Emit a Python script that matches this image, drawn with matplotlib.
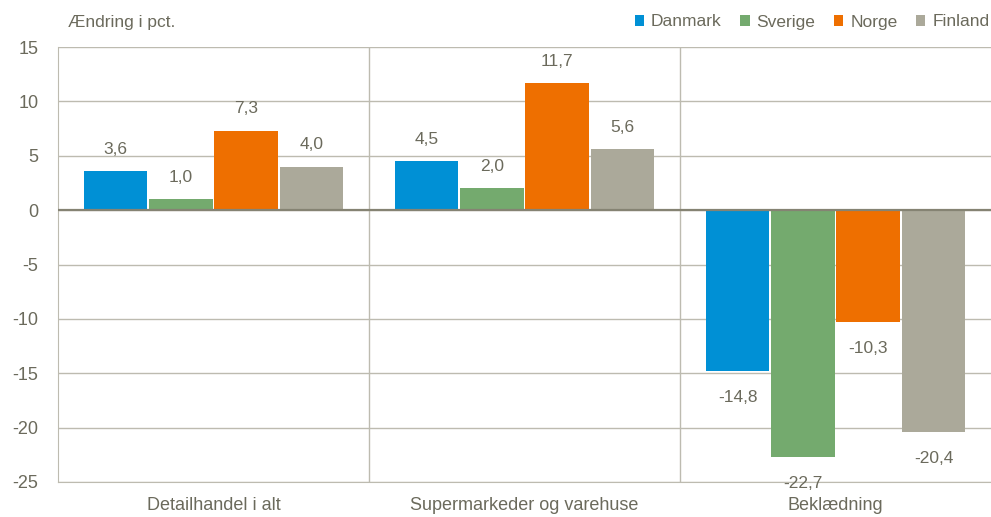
import matplotlib.pyplot as plt
import numpy as np

plt.rcParams['font.family'] = ['Liberation Sans', 'DejaVu Sans']

categories = ['Detailhandel i alt', 'Supermarkeder og varehuse', 'Beklædning']
countries = ['Danmark', 'Sverige', 'Norge', 'Finland']
danmark = [3.6, 4.5, -14.8]
sverige = [1.0, 2.0, -22.7]
norge = [7.3, 11.7, -10.3]
finland = [4.0, 5.6, -20.4]
series = [danmark, sverige, norge, finland]
colors = ['#0090d5', '#74aa6e', '#ee6f00', '#aba99a']

txt = '#6b6a5c'
grid = '#bdbbb0'

fig = plt.figure(figsize=(9.91, 5.17), dpi=100)
ax = fig.add_axes([58/991, 35/517, 933/991, 435/517])

x = np.arange(len(categories))
w = 0.205
step = 0.21
for i, (vals, c) in enumerate(zip(series, colors)):
    pos = x + (i - 1.5) * step
    ax.bar(pos, vals, width=w, color=c, zorder=3, label=countries[i])
    for p, v in zip(pos, vals):
        lab = ('%.1f' % v).replace('.', ',')
        # labels sit just outside the bar end
        off = 2.0 if v >= 0 else -2.4
        ax.text(p, v + off, lab, ha='center', va='center', fontsize=12.5, color=txt)

ax.set_xlim(-0.5, 2.5)
ax.set_ylim(-25, 15)
ax.set_yticks(range(-25, 16, 5))
ax.set_yticklabels([str(v) for v in range(-25, 16, 5)])
ax.grid(axis='y', color=grid, lw=1, zorder=0)
ax.axhline(0, color='#858373', lw=1.6, zorder=4)
for sx in [0.5, 1.5]:
    ax.axvline(sx, color=grid, lw=1, zorder=0)
ax.set_xticks(x)
ax.set_xticklabels(categories)
ax.tick_params(axis='both', length=0, labelsize=13, colors=txt)
ax.tick_params(axis='y', pad=14)
ax.tick_params(axis='x', pad=11)
for s in ['top', 'right']:
    ax.spines[s].set_visible(False)
ax.spines['left'].set_color(grid)
ax.spines['bottom'].set_color(grid)

fig.text(68/991, 1 - 22/517, 'Ændring i pct.', fontsize=12.5, color=txt, va='center')
leg = ax.legend(loc='center right', bbox_to_anchor=(1.0, 1 + 25/435), ncol=4, frameon=False,
                fontsize=12.5, handlelength=0.55, handleheight=0.55, handletextpad=0.4,
                columnspacing=1.05, borderaxespad=0, borderpad=0.1)
for t in leg.get_texts():
    t.set_color(txt)

fig.savefig('out.png', dpi=100)
